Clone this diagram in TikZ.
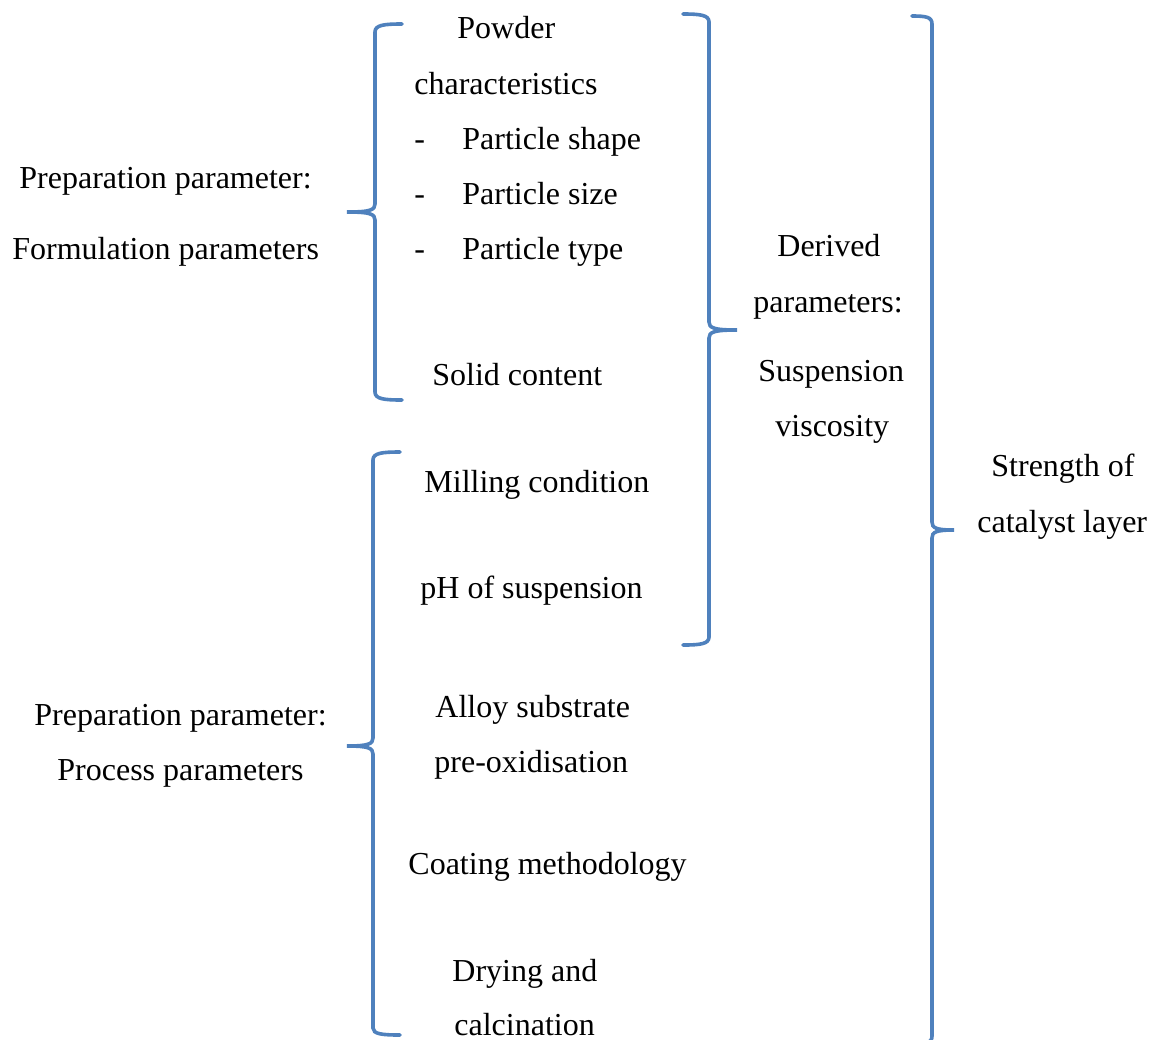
\documentclass[tikz,border=0pt]{standalone}
\usepackage{fontspec}
\setmainfont{Liberation Serif}
\usepackage{xcolor}
\usepackage{tikz}
\usetikzlibrary{positioning}
\definecolor{braceblue}{RGB}{79,129,189}
\tikzstyle{txt} = [inner sep=0pt, anchor=base west, font=\fontsize{16}{19}\selectfont]
\tikzstyle{bracepath} = [draw=braceblue, line width=1.8pt, line cap=round]
\newcommand{\itemdash}[1]{\makebox[24pt][l]{-}#1}

\begin{document}
\begin{tikzpicture}[x=0.5pt, y=-0.5pt]
            \useasboundingbox (0,0) rectangle (1155,1039);

            % formulation group
            \node[txt] (powder) at (457,38) {Powder};
            \node[txt] (charact) at (414,94) {characteristics};
            \node[txt] (shape) at (414,149) {\itemdash{Particle shape}};
            \node[txt] (size) at (414,204) {\itemdash{Particle size}};
            \node[txt] (type) at (414,259) {\itemdash{Particle type}};
            \node[txt] (solid) at (432,385) {Solid content};

            \node[txt] (prep_form) at (19,188) {Preparation parameter:};
            \node[txt] (formulation) at (12,259) {Formulation parameters};

            % process group
            \node[txt] (milling) at (424,492) {Milling condition};
            \node[txt] (ph) at (420,598) {pH of suspension};
            \node[txt] (alloy) at (435,717) {Alloy substrate};
            \node[txt] (preox) at (434,772) {pre-oxidisation};
            \node[txt] (coating) at (408,874) {Coating methodology};
            \node[txt] (drying) at (452,981) {Drying and};
            \node[txt] (calcination) at (454,1035) {calcination};

            \node[txt] (prep_proc) at (34,725) {Preparation parameter:};
            \node[txt] (process) at (57,780) {Process parameters};

            % derived and result
            \node[txt] (derived) at (777,256) {Derived};
            \node[txt] (derived_par) at (753,312) {parameters:};
            \node[txt] (suspension) at (758,381) {Suspension};
            \node[txt] (viscosity) at (775,436) {viscosity};

            \node[txt] (strength) at (991,476) {Strength of};
            \node[txt] (catalyst) at (977,532) {catalyst layer};

            % braces
            \draw[bracepath] (402,24) .. controls (384,24) and (375,25) .. (375,32) -- (375,204)
                .. controls (375,210) and (370,212) .. (347,212)
                .. controls (370,212) and (375,214) .. (375,220) -- (375,392)
                .. controls (375,399) and (384,400) .. (402,400);

            \draw[bracepath] (400,452) .. controls (382,452) and (373,453) .. (373,460) -- (373,738)
                .. controls (373,744) and (368,746) .. (347,746)
                .. controls (368,746) and (373,748) .. (373,754) -- (373,1028)
                .. controls (373,1034) and (382,1035) .. (400,1035);

            \draw[bracepath] (683,14) .. controls (700,14) and (709,15) .. (709,22) -- (709,322)
                .. controls (709,328) and (714,330) .. (737,330)
                .. controls (714,330) and (709,332) .. (709,338) -- (709,637)
                .. controls (709,644) and (700,645) .. (683,645);

            \draw[bracepath] (912,16) .. controls (926,16) and (932,17) .. (932,24) -- (932,522)
                .. controls (932,528) and (936,530) .. (954,530)
                .. controls (936,530) and (932,532) .. (932,538) -- (932,1036)
                .. controls (932,1043) and (926,1044) .. (912,1044);

        \end{tikzpicture}
\end{document}
